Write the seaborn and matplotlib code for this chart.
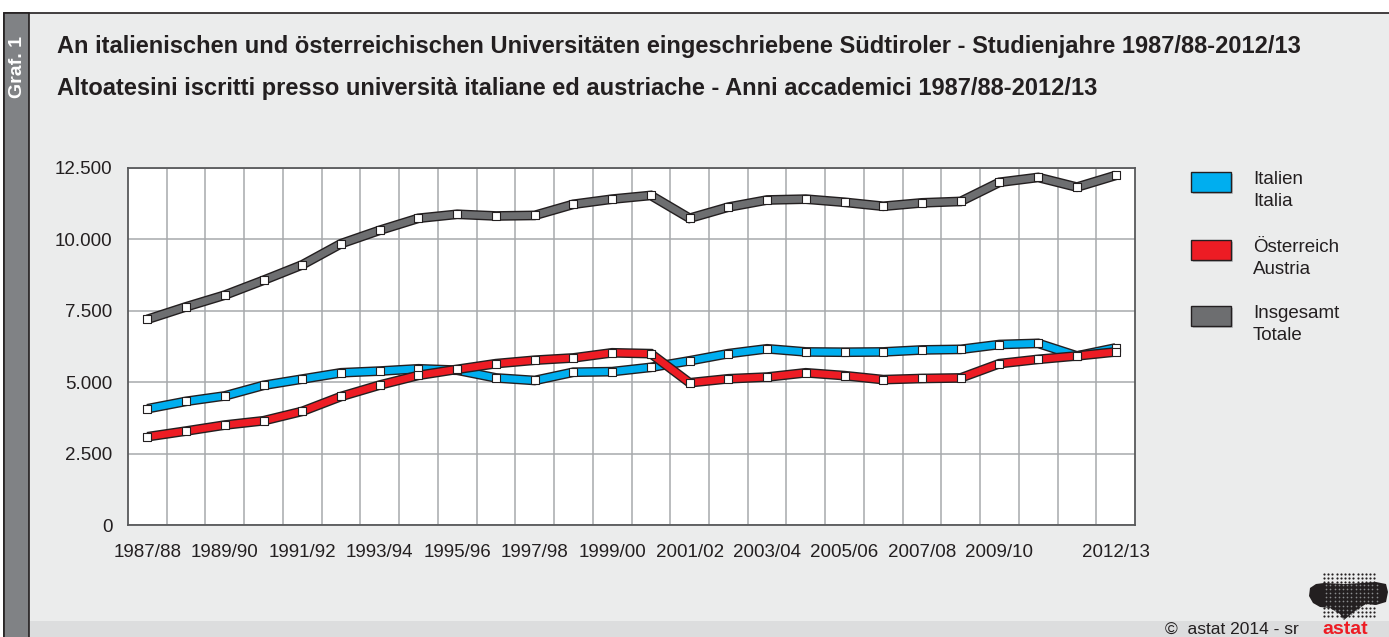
import numpy as np
import pandas as pd
import seaborn as sns
import matplotlib.pyplot as plt
from matplotlib import patheffects as pe
from matplotlib.patches import Rectangle, Polygon
from matplotlib.ticker import FuncFormatter

years = ['1987/88', '1988/89', '1989/90', '1990/91', '1991/92', '1992/93',
         '1993/94', '1994/95', '1995/96', '1996/97', '1997/98', '1998/99',
         '1999/00', '2000/01', '2001/02', '2002/03', '2003/04', '2004/05',
         '2005/06', '2006/07', '2007/08', '2008/09', '2009/10', '2010/11',
         '2011/12', '2012/13']
italien = [4070, 4330, 4520, 4890, 5110, 5330, 5390, 5470, 5420, 5150,
           5060, 5350, 5370, 5520, 5750, 6000, 6170, 6060, 6050, 6060,
           6130, 6150, 6320, 6360, 5920, 6200]
oesterreich = [3090, 3290, 3500, 3650, 3980, 4500, 4900, 5240, 5450, 5650,
               5770, 5850, 6030, 6000, 4980, 5120, 5180, 5330, 5230, 5090,
               5130, 5150, 5650, 5800, 5920, 6060]
insgesamt = [7200, 7640, 8050, 8570, 9110, 9850, 10320, 10740, 10880, 10820,
             10840, 11230, 11410, 11540, 10740, 11130, 11380, 11410, 11300, 11160,
             11280, 11330, 12000, 12170, 11830, 12240]
tick_years = ['1987/88', '1989/90', '1991/92', '1993/94', '1995/96', '1997/98',
              '1999/00', '2001/02', '2003/04', '2005/06', '2007/08', '2009/10',
              '2012/13']

series = {'Insgesamt': insgesamt, 'Italien': italien, 'Österreich': oesterreich}
colors = {'Insgesamt': '#6D6E70', 'Italien': '#00AEEF', 'Österreich': '#ED1C24'}

df = pd.concat([pd.DataFrame({'Jahr': years, 'Studenten': v, 'Reihe': k})
                for k, v in series.items()], ignore_index=True)

sns.set_theme(style='white')
plt.rcParams['font.family'] = ['Liberation Sans', 'DejaVu Sans']
txt = '#231F20'

W, H = 1389, 637
fig = plt.figure(figsize=(W / 100, H / 100), dpi=100, facecolor='white')

# background decoration in pixel coordinates
deco = fig.add_axes([0, 0, 1, 1], zorder=-1)
deco.set_xlim(0, W)
deco.set_ylim(H, 0)
deco.axis('off')
deco.add_patch(Rectangle((4, 13), W, H, facecolor='#EBECEC', edgecolor='#231F20', lw=1.2))
deco.add_patch(Rectangle((4, 13), 25, H, facecolor='#808285', edgecolor='#231F20', lw=1.2))
deco.add_patch(Rectangle((30, 621), W, 20, facecolor='#DCDDDE', edgecolor='none'))
deco.text(17, 67, 'Graf. 1', rotation=90, color='white', fontsize=14,
          fontweight='bold', ha='center', va='center')
deco.text(57, 46, 'An italienischen und österreichischen Universitäten eingeschriebene '
          'Südtiroler - Studienjahre 1987/88-2012/13', fontsize=17, fontweight='bold',
          color=txt, va='center')
deco.text(57, 89, 'Altoatesini iscritti presso università italiane ed austriache - '
          'Anni accademici 1987/88-2012/13', fontsize=17, fontweight='bold',
          color=txt, va='center')

# legend
legend_rows = [('Italien', 'Italien', 'Italia', 172),
               ('Österreich', 'Österreich', 'Austria', 240),
               ('Insgesamt', 'Insgesamt', 'Totale', 306)]
for key, de, it, y0 in legend_rows:
    deco.add_patch(Rectangle((1193, y0 + 2), 40, 20, facecolor='#BCBEC0', edgecolor='none'))
    deco.add_patch(Rectangle((1191, y0), 40, 20, facecolor=colors[key],
                             edgecolor='#231F20', lw=1))
    deco.text(1253, y0 + 8, de, fontsize=13.5, color=txt, va='center')
    deco.text(1253, y0 + 29, it, fontsize=13.5, color=txt, va='center')

# footer + logo
deco.text(1165, 629, '©  astat 2014 - sr', fontsize=12.5, color=txt, va='center')
deco.text(1322, 629, 'astat', fontsize=14, fontweight='bold', color='#ED1C24', va='center')
gx, gy = np.meshgrid(np.arange(1324, 1377, 4.2), np.arange(574, 620, 4.2))
deco.scatter(gx.ravel(), gy.ravel(), s=2.5, color='#231F20', linewidths=0)
blob = Polygon([(1310, 588), (1316, 584), (1324, 583), (1345, 584), (1362, 583),
                (1376, 582), (1386, 584), (1388, 592), (1386, 602), (1376, 605),
                (1366, 604), (1358, 609), (1350, 615), (1344, 620), (1340, 614),
                (1330, 608), (1320, 607), (1313, 603), (1309, 596)], closed=True,
               facecolor='#231F20', edgecolor='none')
deco.add_patch(blob)
inside = blob.get_path().contains_points(np.c_[gx.ravel() + 2.1, gy.ravel() + 2.1])
deco.scatter(gx.ravel()[inside] + 2.1, gy.ravel()[inside] + 2.1, s=1.5,
             color='#8A8C8E', linewidths=0)

# main chart
ax = fig.add_axes([128 / W, 1 - 525 / H, (1135 - 128) / W, (525 - 168) / H])
ax.set_facecolor('white')
sns.lineplot(data=df, x='Jahr', y='Studenten', hue='Reihe', palette=colors,
             lw=5.0, sort=False, legend=False, ax=ax, zorder=3)
for line in ax.lines:
    line.set_solid_capstyle('butt')
    line.set_solid_joinstyle('miter')
    line.set_path_effects([pe.Stroke(linewidth=7.0, foreground='#231F20'), pe.Normal()])
sns.scatterplot(data=df, x='Jahr', y='Studenten', marker='s', s=30, color='white',
                edgecolor='#231F20', linewidth=0.8, legend=False, ax=ax, zorder=5)

ax.set_xlim(-0.5, len(years) - 0.5)
ax.set_ylim(0, 12500)
ax.set_yticks(np.arange(0, 12501, 2500))
ax.yaxis.set_major_formatter(FuncFormatter(lambda v, p: f'{int(v):,}'.replace(',', '.')))
ax.set_xticks([years.index(t) for t in tick_years])
ax.set_xticklabels(tick_years)
ax.set_xticks(np.arange(0.5, len(years) - 1, 1), minor=True)
ax.grid(True, which='major', axis='y', color='#A7A9AC', lw=1.1)
ax.grid(True, which='minor', axis='x', color='#A7A9AC', lw=1.1)
ax.tick_params(axis='both', which='both', length=0, labelsize=13.5, labelcolor=txt)
ax.tick_params(axis='y', pad=11)
ax.tick_params(axis='x', pad=14)
ax.set_xlabel('')
ax.set_ylabel('')
for s in ax.spines.values():
    s.set_visible(True)
    s.set_color('#58595B')
    s.set_linewidth(1.3)

plt.savefig('out.png', dpi=100, facecolor=fig.get_facecolor())
